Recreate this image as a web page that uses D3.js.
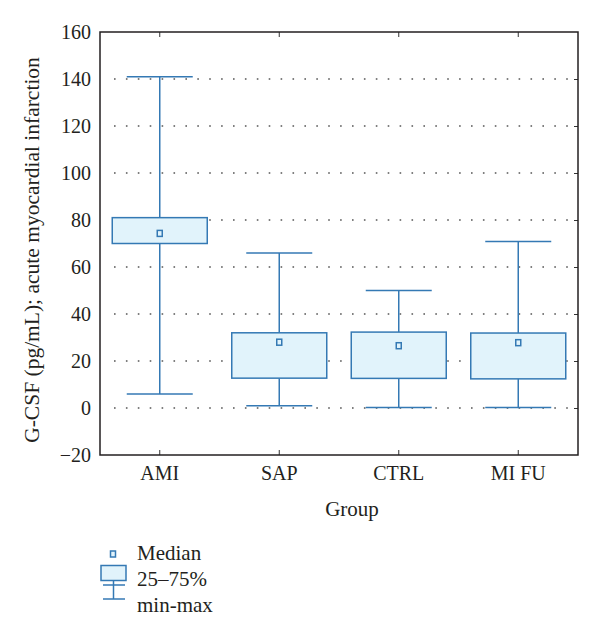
<!DOCTYPE html>
<html><head><meta charset="utf-8">
<script src="https://cdn.jsdelivr.net/npm/d3@7"></script>
<style>body{margin:0;background:#fff}svg{display:block}text{font-family:"Liberation Serif","DejaVu Serif",serif;fill:#231f20}</style>
</head><body><svg id="c" width="600" height="639"></svg>
<script>
const categories = ["AMI","SAP","CTRL","MI FU"];
const minVals    = [6, 1, 0.2, 0.2];
const q1Vals     = [70, 12.7, 12.6, 12.4];
const medianVals = [74.3, 28, 26.5, 27.8];
const q3Vals     = [81, 32, 32.3, 31.9];
const maxVals    = [141, 66, 50, 70.8];
const yTicks = [-20,0,20,40,60,80,100,120,140,160];
const gridTicks = [0,20,40,60,80,100,120,140];
const legendLabels = ["Median","25–75%","min-max"];

const stroke = "#3479b4", fill = "#e1f3fb";
const svg = d3.select("#c");
const L=100,R=578,T=32,B=455;
const x = d3.scaleBand().domain(categories).range([L,R]).padding(0);
const y = d3.scaleLinear().domain([-20,160]).range([B,T]);

// gridlines
svg.append("g").selectAll("line").data(gridTicks).join("line")
  .attr("x1",L+14).attr("x2",R).attr("y1",d=>y(d)).attr("y2",d=>y(d))
  .attr("stroke","#555").attr("stroke-width",1.6).attr("stroke-dasharray","1.6,10.3");

// y axis labels (left)
const ya = svg.append("g").attr("transform",`translate(${L},0)`).call(d3.axisLeft(y).tickValues(yTicks).tickSize(0).tickPadding(9).tickFormat(d=>d<0?"\u2212"+Math.abs(d):d));
ya.select(".domain").remove();
ya.selectAll("text").style("font-size","20px").style("font-family","Liberation Serif").attr("fill","#231f20");
// right inward ticks
svg.append("g").attr("transform",`translate(${R},0)`).call(d3.axisLeft(y).tickValues(gridTicks).tickSize(4).tickFormat(""))
  .call(g=>{g.select(".domain").remove();g.selectAll("line").attr("stroke","#333");});
// bottom axis
const xa = svg.append("g").attr("transform",`translate(0,${B})`).call(d3.axisBottom(x).tickSize(-5));
xa.select(".domain").remove();
xa.selectAll("line").attr("stroke","#333");
xa.selectAll("text").style("font-size","20px").style("font-family","Liberation Serif").attr("fill","#231f20").attr("dy","0").attr("y",25);
// top ticks
svg.append("g").attr("transform",`translate(0,${T})`).call(d3.axisTop(x).tickSize(-5).tickFormat(""))
  .call(g=>{g.select(".domain").remove();g.selectAll("line").attr("stroke","#333");});

// frame
svg.append("rect").attr("x",L).attr("y",T).attr("width",R-L).attr("height",B-T)
  .attr("fill","none").attr("stroke","#231f20").attr("stroke-width",1.5);

const boxW = 95, capW = 66;
const g = svg.append("g");
categories.forEach((c,i)=>{
  const cx = x(c)+x.bandwidth()/2;
  g.append("line").attr("x1",cx).attr("x2",cx).attr("y1",y(maxVals[i])).attr("y2",y(q3Vals[i])).attr("stroke",stroke).attr("stroke-width",1.5);
  g.append("line").attr("x1",cx).attr("x2",cx).attr("y1",y(q1Vals[i])).attr("y2",y(minVals[i])).attr("stroke",stroke).attr("stroke-width",1.5);
  g.append("line").attr("x1",cx-capW/2).attr("x2",cx+capW/2).attr("y1",y(maxVals[i])).attr("y2",y(maxVals[i])).attr("stroke",stroke).attr("stroke-width",1.5);
  g.append("line").attr("x1",cx-capW/2).attr("x2",cx+capW/2).attr("y1",y(minVals[i])).attr("y2",y(minVals[i])).attr("stroke",stroke).attr("stroke-width",1.5);
  g.append("rect").attr("x",cx-boxW/2).attr("y",y(q3Vals[i])).attr("width",boxW).attr("height",y(q1Vals[i])-y(q3Vals[i]))
    .attr("fill",fill).attr("stroke",stroke).attr("stroke-width",1.5);
  g.append("rect").attr("x",cx-2.5).attr("y",y(medianVals[i])-3).attr("width",5).attr("height",6)
    .attr("fill",fill).attr("stroke",stroke).attr("stroke-width",1.5);
});

// axis titles
svg.append("text").attr("transform","translate(31,250) rotate(-90)").attr("text-anchor","middle").attr("dy","0.35em")
  .style("font-size","21.5px").text("G-CSF (pg/mL); acute myocardial infarction");
svg.append("text").attr("x",352).attr("y",516).attr("text-anchor","middle").style("font-size","21px").text("Group");

// legend
const lg = svg.append("g");
lg.append("rect").attr("x",110.5).attr("y",551).attr("width",5).attr("height",6).attr("fill",fill).attr("stroke",stroke).attr("stroke-width",1.5);
lg.append("rect").attr("x",101).attr("y",565.5).attr("width",25).attr("height",15).attr("fill",fill).attr("stroke",stroke).attr("stroke-width",1.5);
lg.append("line").attr("x1",103).attr("x2",125).attr("y1",585).attr("y2",585).attr("stroke",stroke).attr("stroke-width",1.5);
lg.append("line").attr("x1",113.5).attr("x2",113.5).attr("y1",580.5).attr("y2",599).attr("stroke",stroke).attr("stroke-width",1.5);
lg.append("line").attr("x1",103).attr("x2",125).attr("y1",599).attr("y2",599).attr("stroke",stroke).attr("stroke-width",1.5);
lg.selectAll("text").data(legendLabels).join("text").attr("x",137).attr("y",(d,i)=>560+i*26)
  .style("font-size","21px").text(d=>d);
</script></body></html>
